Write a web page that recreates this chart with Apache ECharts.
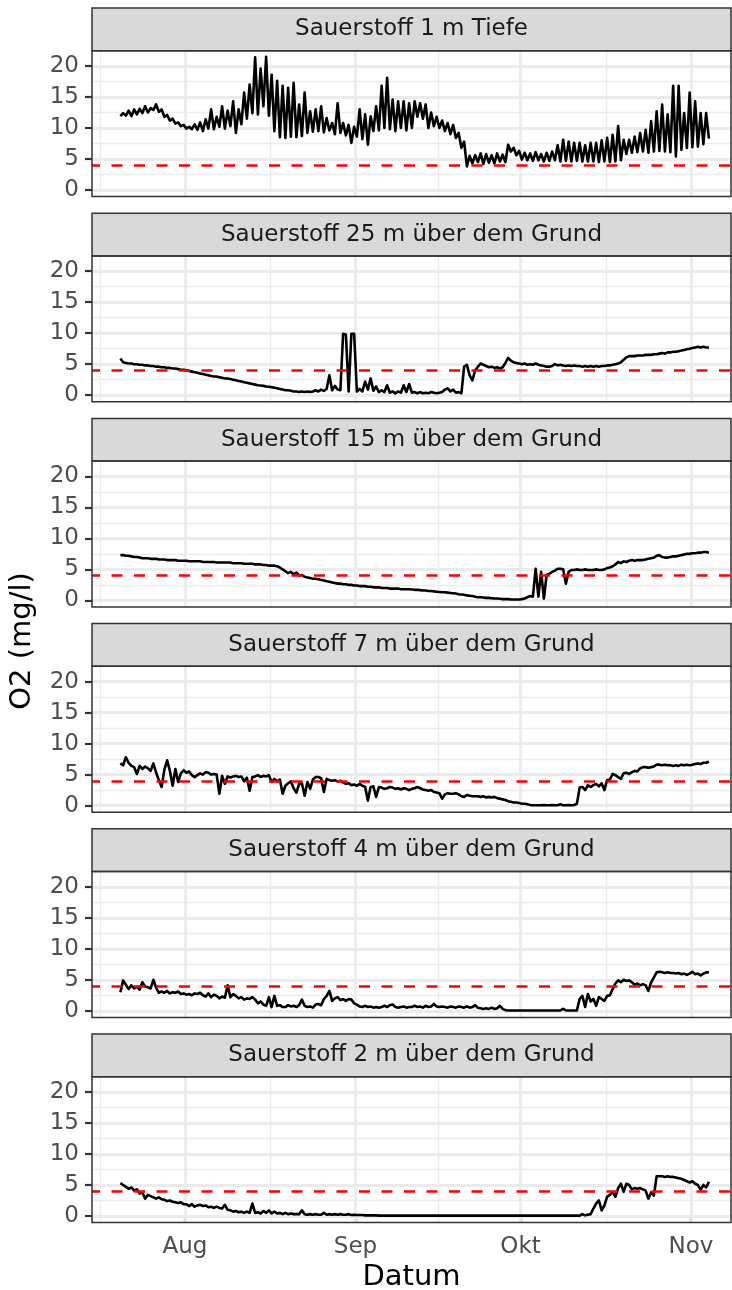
<!DOCTYPE html>
<html><head><meta charset="utf-8">
<script src="https://cdn.jsdelivr.net/npm/echarts@6/dist/echarts.min.js"></script>
<style>html,body{margin:0;padding:0;background:#fff}#c{width:732px;height:1290px}</style>
</head><body><div id="c"></div><script>
// x values are days since 1 July (00:00); samples every half day
const startDay = 19.25;
const stepDay = 0.5;
const panelTitles = ['Sauerstoff 1 m Tiefe','Sauerstoff 25 m über dem Grund','Sauerstoff 15 m über dem Grund','Sauerstoff 7 m über dem Grund','Sauerstoff 4 m über dem Grund','Sauerstoff 2 m über dem Grund'];
const o2_1m = [
11.9,12.4,12.0,12.8,11.9,13.0,12.2,13.1,12.4,13.5,
12.5,13.2,12.9,13.8,12.6,13.0,11.8,12.1,11.2,11.5,
10.7,10.9,10.3,10.5,9.9,10.2,9.8,10.6,9.7,10.9,
9.5,11.4,9.9,13.0,9.8,11.8,10.2,13.5,9.9,12.8,
10.3,14.3,9.2,13.0,10.6,15.7,11.5,17.0,12.4,21.4,
12.2,19.6,13.5,21.5,12.0,18.6,9.5,17.6,8.5,16.8,
8.4,16.5,8.6,17.3,8.5,13.8,8.7,15.7,9.2,12.7,
9.4,13.0,9.5,13.5,9.3,11.6,9.6,10.8,9.0,14.0,
9.2,10.8,8.8,10.5,7.6,10.2,8.6,13.0,8.2,12.2,
7.3,11.9,9.5,13.5,9.6,16.8,10.0,18.1,9.8,14.6,
9.5,14.3,10.0,14.3,9.6,14.0,10.0,14.3,11.8,14.0,
11.5,13.8,10.0,12.5,10.3,11.8,10.0,11.2,9.5,10.8,
9.0,10.5,8.4,9.2,6.8,7.8,3.8,5.5,4.3,5.6,
4.5,5.9,4.2,5.8,4.4,5.6,4.3,5.9,4.6,5.7,
4.5,7.3,6.2,6.8,5.6,6.3,4.9,6.0,4.8,5.9,
4.7,6.1,4.8,5.8,4.6,6.0,4.7,6.2,4.8,7.2,
4.6,8.1,4.7,7.8,4.6,7.6,4.7,7.6,4.6,7.2,
4.6,7.6,4.6,7.6,4.5,8.0,4.6,8.4,4.5,8.9,
4.6,10.3,4.8,8.1,5.8,8.1,6.0,8.6,6.1,9.2,
6.2,9.7,6.0,11.1,6.2,12.7,6.3,13.8,6.2,12.2,
6.1,16.8,5.4,16.8,6.5,12.4,6.8,15.7,6.9,14.3,
7.0,12.4,7.4,12.4,8.3];
const o2_25m = [
5.9,5.3,5.2,5.1,5.1,5.0,5.0,4.9,4.9,4.8,
4.8,4.7,4.7,4.6,4.6,4.5,4.5,4.4,4.4,4.3,
4.3,4.2,4.1,4.1,4.0,3.9,3.8,3.7,3.6,3.5,
3.4,3.3,3.2,3.1,3.0,3.0,2.9,2.8,2.7,2.7,
2.6,2.5,2.4,2.3,2.2,2.1,2.0,1.9,1.8,1.7,
1.6,1.55,1.5,1.4,1.35,1.3,1.2,1.1,1.0,0.9,
0.8,0.8,0.7,0.6,0.6,0.5,0.6,0.5,0.6,0.5,
0.6,0.8,0.6,0.9,0.7,1.0,3.2,0.8,1.5,0.9,
0.8,9.9,9.8,0.6,9.9,9.9,0.6,1.0,0.6,2.2,
0.9,2.7,0.7,1.4,0.5,0.8,0.5,1.6,0.4,0.6,
0.3,0.6,0.4,1.6,0.5,1.8,0.4,0.5,0.3,0.5,
0.3,0.4,0.3,0.5,0.4,0.3,0.4,0.5,0.9,1.1,
0.6,0.9,0.4,0.5,0.3,4.6,4.9,3.2,2.4,4.0,
4.6,5.1,4.9,4.7,4.5,4.6,4.4,4.5,4.3,4.5,
5.2,6.0,5.6,5.3,5.2,5.1,5.0,5.1,4.9,5.0,
4.9,5.1,4.9,4.8,4.7,4.6,4.6,4.7,5.0,4.8,
4.9,4.8,4.7,4.8,4.7,4.8,4.7,4.7,4.6,4.7,
4.6,4.7,4.6,4.7,4.6,4.7,4.7,4.8,4.8,4.9,
5.0,5.1,5.3,5.7,6.1,6.3,6.3,6.3,6.4,6.4,
6.4,6.5,6.5,6.5,6.6,6.6,6.7,6.8,6.7,6.9,
6.9,7.0,7.0,7.1,7.2,7.3,7.4,7.5,7.6,7.7,
7.8,7.7,7.8,7.7,7.7];
const o2_15m = [
7.3,7.3,7.2,7.2,7.1,7.0,7.0,6.9,6.8,6.8,
6.8,6.7,6.7,6.7,6.6,6.6,6.6,6.5,6.5,6.5,
6.5,6.4,6.4,6.4,6.4,6.3,6.3,6.3,6.3,6.3,
6.2,6.2,6.2,6.2,6.2,6.1,6.1,6.1,6.1,6.1,
6.1,6.0,6.0,6.0,6.0,5.9,5.9,5.9,5.9,5.8,
5.8,5.8,5.7,5.7,5.6,5.6,5.6,5.5,5.3,5.0,
4.7,4.4,4.6,4.2,4.5,4.0,4.1,3.8,3.7,3.6,
3.5,3.5,3.4,3.3,3.2,3.1,3.0,2.9,2.8,2.7,
2.7,2.6,2.6,2.5,2.5,2.4,2.4,2.3,2.3,2.3,
2.2,2.2,2.1,2.1,2.1,2.0,2.0,2.0,1.9,1.9,
1.9,1.9,1.8,1.8,1.8,1.8,1.75,1.7,1.7,1.65,
1.6,1.6,1.5,1.5,1.45,1.4,1.35,1.3,1.3,1.25,
1.2,1.15,1.1,1.0,0.95,0.9,0.8,0.75,0.7,0.6,
0.5,0.5,0.45,0.4,0.4,0.35,0.3,0.3,0.25,0.2,
0.2,0.2,0.15,0.15,0.15,0.15,0.2,0.3,0.5,0.7,
0.6,5.1,0.6,4.6,0.3,4.1,4.3,4.6,4.8,5.1,
5.1,5.0,2.7,4.6,4.9,4.9,5.0,4.9,4.9,5.0,
4.9,4.9,4.9,5.0,4.9,4.9,5.0,5.2,5.3,5.5,
5.8,6.2,6.0,6.3,6.2,6.4,6.5,6.4,6.5,6.5,
6.5,6.6,6.7,6.8,6.9,7.2,7.3,7.0,6.9,6.9,
7.0,7.1,7.1,7.2,7.3,7.4,7.5,7.5,7.6,7.6,
7.7,7.7,7.8,7.8,7.7];
const o2_7m = [
6.8,6.5,7.8,6.9,6.4,6.2,5.1,6.4,5.9,6.3,
6.0,5.6,6.8,5.3,4.1,3.0,5.8,7.3,5.6,3.2,
5.9,3.8,5.2,5.7,5.3,5.5,4.9,4.6,4.9,5.2,
5.0,5.4,5.3,5.0,5.1,5.0,1.9,4.8,3.5,4.7,
4.5,4.7,4.8,4.6,4.7,3.9,4.5,2.4,4.6,4.7,
4.9,4.6,4.8,4.7,4.9,3.8,4.3,3.9,4.2,1.9,
3.2,3.6,3.9,2.8,2.1,3.5,3.6,1.6,3.8,2.7,
4.2,4.6,4.6,4.4,2.2,4.3,4.1,4.0,4.1,3.9,
4.0,3.7,3.5,3.6,3.3,3.4,3.2,3.5,3.2,3.0,
0.8,3.0,3.1,1.4,3.0,2.9,2.7,2.8,3.0,2.9,
2.7,2.8,2.6,2.8,2.7,2.5,2.7,2.8,3.0,2.8,
2.6,2.5,2.4,2.5,2.2,2.1,2.0,1.1,1.8,2.0,
1.9,1.9,2.0,1.8,1.5,1.4,1.7,1.6,1.5,1.5,
1.5,1.4,1.5,1.3,1.4,1.3,1.4,1.2,1.1,1.0,
0.9,0.7,0.6,0.5,0.5,0.4,0.3,0.3,0.2,0.1,
0.05,0.05,0.05,0.05,0.1,0.05,0.05,0.1,0.05,0.05,
0.2,0.05,0.05,0.1,0.05,0.1,0.3,2.9,3.0,2.5,
3.3,3.0,3.3,3.5,3.1,3.6,2.5,4.1,4.2,5.1,
4.9,4.6,4.3,5.2,5.3,5.1,5.4,5.6,5.5,6.0,
6.2,6.2,6.1,6.2,6.3,6.6,6.6,6.5,6.6,6.5,
6.5,6.4,6.5,6.4,6.6,6.5,6.6,6.5,6.6,6.7,
6.8,6.7,6.9,6.9,7.1];
const o2_4m = [
3.0,4.9,4.2,3.5,4.1,3.6,3.9,3.4,4.6,3.9,
3.8,3.6,5.0,3.7,2.9,3.1,2.9,3.2,2.8,3.0,
2.9,3.1,2.7,2.8,2.6,2.7,2.5,2.8,2.7,2.9,
2.5,2.3,2.8,2.2,2.6,2.4,2.0,2.3,2.1,4.1,
2.2,2.7,2.4,2.0,2.2,1.8,2.0,1.9,2.2,1.8,
1.2,1.5,1.0,0.8,2.2,0.6,2.4,0.8,0.9,0.6,
0.6,0.9,0.7,0.8,0.6,0.9,1.8,0.8,0.6,0.7,
0.5,1.0,1.1,0.9,1.9,2.4,3.2,1.6,2.0,2.2,
1.7,1.9,1.6,1.9,1.8,1.2,1.0,0.7,0.6,0.8,
0.6,0.7,0.5,0.6,0.5,0.6,0.8,0.6,0.9,1.0,
0.6,0.5,0.6,0.7,0.5,0.6,0.6,0.8,0.6,0.7,
0.5,0.8,0.6,0.7,1.1,0.7,0.6,0.7,0.6,0.5,
0.7,0.6,0.5,0.7,0.6,0.5,0.7,0.5,0.6,0.9,
0.5,0.4,0.3,0.4,0.3,0.5,0.3,0.4,0.8,0.3,
0.1,0.05,0.05,0.05,0.05,0.05,0.05,0.05,0.05,0.05,
0.05,0.05,0.05,0.05,0.05,0.05,0.05,0.05,0.05,0.05,
0.05,0.3,0.05,0.05,0.05,0.05,0.05,1.9,2.4,0.6,
2.7,1.5,1.9,0.8,2.2,1.9,1.6,2.4,2.5,3.5,
4.4,4.9,4.6,5.0,4.8,4.9,4.6,4.2,4.4,4.1,
4.3,4.1,3.2,4.6,5.4,6.2,6.3,6.2,6.1,6.2,
6.1,6.1,6.0,6.1,5.9,6.0,5.8,6.0,6.3,5.9,
6.0,5.7,6.0,6.2,6.2];
const o2_2m = [
5.3,5.0,4.7,4.4,4.6,4.1,4.3,3.6,3.8,2.8,
3.4,3.2,3.0,2.8,3.0,2.7,2.6,2.4,2.5,2.3,
2.2,2.1,2.2,1.9,1.9,1.6,1.9,1.5,1.7,1.8,
1.6,1.7,1.4,1.5,1.3,1.5,1.3,1.2,1.8,1.0,
0.9,0.7,0.8,0.6,0.7,0.5,0.7,0.5,2.0,0.5,
0.6,0.4,0.8,0.5,0.9,0.4,0.7,0.4,0.5,0.3,
0.5,0.3,0.4,0.3,0.3,0.3,0.9,0.3,0.2,0.3,
0.2,0.3,0.2,0.2,0.5,0.2,0.3,0.2,0.3,0.2,
0.3,0.2,0.2,0.3,0.15,0.2,0.15,0.15,0.15,0.1,
0.1,0.1,0.1,0.1,0.05,0.05,0.05,0.05,0.05,0.05,
0.05,0.05,0.05,0.05,0.05,0.05,0.05,0.05,0.05,0.05,
0.05,0.05,0.05,0.05,0.05,0.05,0.05,0.05,0.05,0.05,
0.05,0.05,0.05,0.05,0.05,0.05,0.05,0.05,0.05,0.05,
0.05,0.05,0.05,0.05,0.05,0.05,0.05,0.05,0.05,0.05,
0.05,0.05,0.05,0.05,0.05,0.05,0.05,0.05,0.05,0.05,
0.05,0.05,0.05,0.05,0.05,0.05,0.05,0.05,0.05,0.05,
0.05,0.05,0.05,0.05,0.05,0.05,0.05,0.05,0.3,0.1,
0.2,0.3,1.2,2.0,2.5,0.9,1.7,3.1,3.4,3.9,
3.1,4.5,5.2,3.9,5.2,5.0,4.3,4.5,4.4,4.5,
4.3,4.1,2.8,3.8,3.3,6.4,6.4,6.4,6.3,6.4,
6.3,6.3,6.2,6.1,6.0,5.8,5.6,5.4,5.6,5.2,
5.0,4.2,5.0,4.6,5.5];
const seriesValues = [o2_1m, o2_25m, o2_15m, o2_7m, o2_4m, o2_2m];
const threshold = 4;
const monthTicks = [31, 62, 92, 123];      // 1 Aug, 1 Sep, 1 Okt, 1 Nov
const monthLabels = ['Aug', 'Sep', 'Okt', 'Nov'];
const minorXBreaks = [15.5, 46.5, 77, 107.5];
const yTicks = [0, 5, 10, 15, 20];
const yMinorBreaks = [2.5, 7.5, 12.5, 17.5];

// layout
const X_MIN = 14.09, X_MAX = 130.27, Y_MIN = -1.07, Y_MAX = 22.47;
const PL = 92, PW = 639, STEP = 205.2, PT0 = 50.7, PH = 145.9, ST0 = 8, SH = 42.7;
const FONT = 'DejaVu Sans';

const chart = echarts.init(document.getElementById('c'), null, {renderer: 'canvas'});
const grids = [], xAxes = [], yAxes = [], series = [], graphics = [];
for (let i = 0; i < 6; i++) {
  const top = PT0 + STEP * i;
  const last = i === 5;
  grids.push({left: PL, width: PW, top: top, height: PH, show: false, containLabel: false, outerBoundsMode: 'none'});
  xAxes.push({
    type: 'value', gridIndex: i, min: X_MIN, max: X_MAX,
    axisLine: {show: false}, splitLine: {show: false},
    axisTick: {show: last, customValues: monthTicks, length: 7, lineStyle: {color: '#333333', width: 2.2}},
    axisLabel: {show: last, customValues: monthTicks, margin: 13, fontFamily: FONT, fontSize: 23, color: '#4D4D4D',
      formatter: v => monthLabels[monthTicks.indexOf(v)] || ''}
  });
  yAxes.push({
    type: 'value', gridIndex: i, min: Y_MIN, max: Y_MAX,
    axisLine: {show: false}, splitLine: {show: false},
    axisTick: {show: true, customValues: yTicks, length: 7, lineStyle: {color: '#333333', width: 2.2}},
    axisLabel: {show: true, customValues: yTicks, margin: 13, fontFamily: FONT, fontSize: 23, color: '#4D4D4D'}
  });
  const gridLines = [];
  minorXBreaks.forEach(v => gridLines.push({xAxis: v, lineStyle: {width: 1.4}}));
  yMinorBreaks.forEach(v => gridLines.push({yAxis: v, lineStyle: {width: 1.4}}));
  monthTicks.forEach(v => gridLines.push({xAxis: v, lineStyle: {width: 2.8}}));
  yTicks.forEach(v => gridLines.push({yAxis: v, lineStyle: {width: 2.8}}));
  series.push({
    type: 'line', xAxisIndex: i, yAxisIndex: i, data: [], z: 1, silent: true,
    markLine: {z: 1, silent: true, symbol: ['none', 'none'], label: {show: false}, animation: false,
      lineStyle: {color: '#EBEBEB', type: 'solid'}, data: gridLines}
  });
  const vals = seriesValues[i];
  series.push({
    type: 'line', name: panelTitles[i], xAxisIndex: i, yAxisIndex: i, z: 3,
    data: vals.map((v, k) => [startDay + k * stepDay, v]),
    showSymbol: false, symbol: 'none', clip: true, animation: false,
    lineStyle: {color: '#000000', width: 2.6, join: 'round'},
    markLine: {z: 5, silent: true, symbol: ['none', 'none'], label: {show: false}, animation: false,
      lineStyle: {color: '#FF0000', type: [11, 11.5], dashOffset: 3, width: 2.6},
      data: [{yAxis: threshold}]}
  });
  const stop = ST0 + STEP * i;
  graphics.push({type: 'rect', shape: {x: PL, y: stop, width: PW, height: SH}, style: {fill: '#D9D9D9', stroke: '#333333', lineWidth: 1.5}, z: 50});
  graphics.push({type: 'text', x: PL + PW / 2, y: stop + SH / 2, style: {text: panelTitles[i], fill: '#1A1A1A', font: '23px "DejaVu Sans"', textAlign: 'center', textVerticalAlign: 'middle'}, z: 51});
  graphics.push({type: 'rect', shape: {x: PL, y: top, width: PW, height: PH}, style: {fill: 'none', stroke: '#333333', lineWidth: 1.5}, z: 50});
}
graphics.push({type: 'text', x: PL + PW / 2, y: 1277, style: {text: 'Datum', fill: '#000000', font: '29px "DejaVu Sans"', textAlign: 'center', textVerticalAlign: 'middle'}, z: 51});
graphics.push({type: 'text', x: 22, y: 641, rotation: Math.PI / 2, style: {text: 'O2 (mg/l)', fill: '#000000', font: '29px "DejaVu Sans"', textAlign: 'center', textVerticalAlign: 'middle'}, z: 51});

chart.setOption({
  animation: false,
  backgroundColor: '#FFFFFF',
  grid: grids, xAxis: xAxes, yAxis: yAxes, series: series, graphic: graphics
});
</script></body></html>
